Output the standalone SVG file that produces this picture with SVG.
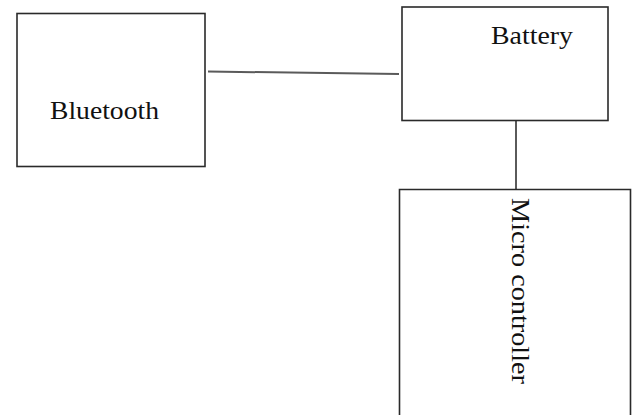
<svg xmlns="http://www.w3.org/2000/svg" width="632" height="415" viewBox="0 0 632 415">
<style>
.box{fill:#fff;stroke:#2a2a2a;stroke-width:1.6}
.lbl{font-family:"Liberation Serif","Times New Roman",serif;font-size:26px;fill:#111}
.conn{stroke:#5a5a5a;stroke-width:2;fill:none}
</style>
<rect width="632" height="415" fill="#fff"/>
<g id="connectors">
<line class="conn" x1="208" y1="71.5" x2="399" y2="74"/>
<line class="conn" x1="516" y1="119" x2="516" y2="190"/>
</g>
<g id="bluetooth">
<rect class="box" x="17" y="13.5" width="188" height="153"/>
<text class="lbl" x="50" y="119" textLength="109" lengthAdjust="spacingAndGlyphs">Bluetooth</text>
</g>
<g id="battery">
<rect class="box" x="402" y="7" width="206" height="113.5"/>
<text class="lbl" x="491" y="43.5" textLength="82" lengthAdjust="spacingAndGlyphs">Battery</text>
</g>
<g id="microcontroller">
<path class="box" d="M399.5 420 V189.5 H630.5 V420"/>
<text class="lbl" transform="translate(512,198) rotate(90)" x="0" y="0" textLength="186" lengthAdjust="spacingAndGlyphs">Micro controller</text>
</g>
</svg>
